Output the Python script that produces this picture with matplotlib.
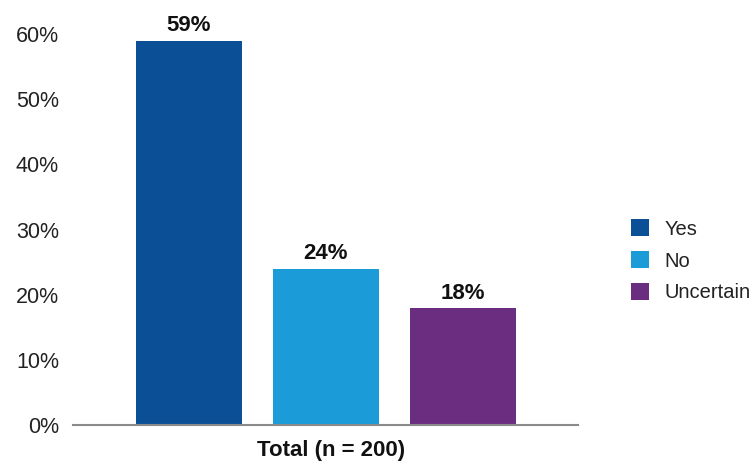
import matplotlib
matplotlib.use("Agg")
import matplotlib.pyplot as plt
from matplotlib.patches import Patch

plt.rcParams['font.family'] = ['Liberation Sans', 'DejaVu Sans']

categories = ["Yes", "No", "Uncertain"]
values = [59, 24, 18]
colors = ["#0b5096", "#1b9cd9", "#6b2d80"]
group_label = "Total (n = 200)"
y_ticks = [0, 10, 20, 30, 40, 50, 60]

fig = plt.figure(figsize=(7.55, 4.61), dpi=100)
ax = fig.add_axes([0.0967, 0.0781, 0.6689, 0.8481])

x = list(range(len(categories)))
bars = ax.bar(x, values, width=0.78, color=colors)
ax.bar_label(bars, labels=[f"{v}%" for v in values], padding=3,
             fontsize=16, fontweight='bold', color='#111111')

ax.set_xlim(-0.847, 2.84)
ax.set_ylim(0, 60)
ax.set_yticks(y_ticks)
ax.set_yticklabels([f"{t}%" for t in y_ticks], fontsize=15.5, color='#222222')
ax.tick_params(axis='y', length=0, pad=10)

ax.set_xticks([1.04])
ax.set_xticklabels([group_label], fontsize=16, fontweight='bold', color='#111111')
ax.tick_params(axis='x', length=0, pad=11)

for side in ['top', 'right', 'left']:
    ax.spines[side].set_visible(False)
ax.spines['bottom'].set_color('#8a8a8a')
ax.spines['bottom'].set_linewidth(1.5)

handles = [Patch(facecolor=c, edgecolor='none') for c in colors]
fig.legend(handles, categories, loc='center left', bbox_to_anchor=(0.836, 0.434),
           frameon=False, fontsize=14.5, handlelength=0.9, handleheight=0.9,
           handletextpad=0.75, labelspacing=0.62, borderpad=0, borderaxespad=0,
           labelcolor='#222222')

fig.savefig("out.png", dpi=100)
